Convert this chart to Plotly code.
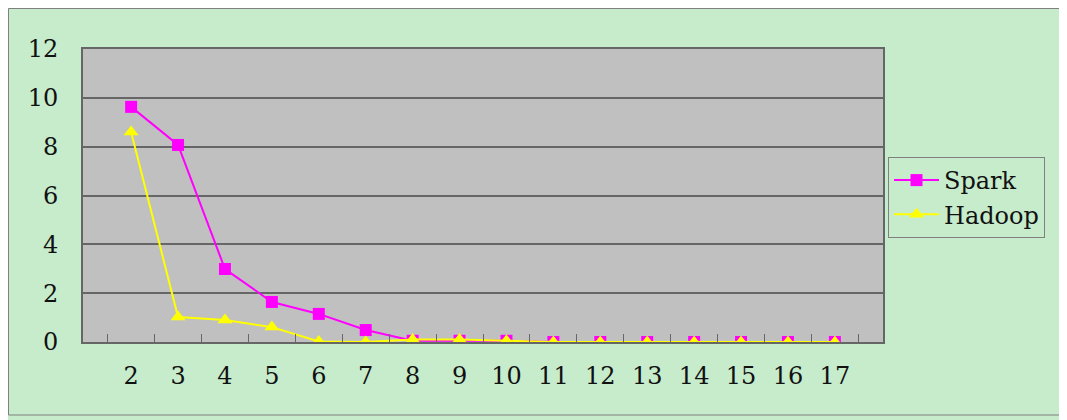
import plotly.graph_objects as go

categories = [str(i) for i in range(2, 18)]
spark = [9.63, 8.07, 2.99, 1.64, 1.15, 0.49, 0.05, 0.05, 0.05, 0, 0, 0, 0, 0, 0, 0]
hadoop = [8.6, 1.02, 0.9, 0.61, 0.02, 0.0, 0.1, 0.1, 0.05, 0, 0, 0, 0, 0, 0, 0]
y_ticks = [0, 2, 4, 6, 8, 10, 12]

FONT = "DejaVu Serif"
W, H = 1059, 412          # page body has an 8px margin
L, T, R, B = 75, 41, 184, 78
PW, PH = W - L - R, H - T - B

fig = go.Figure()
fig.add_trace(go.Scatter(x=categories, y=spark, name="Spark", mode="lines+markers",
                         line=dict(color="#FF00FF", width=2),
                         marker=dict(symbol="square", size=12, color="#FF00FF")))
fig.add_trace(go.Scatter(x=categories, y=hadoop, name="Hadoop", mode="lines+markers",
                         line=dict(color="#FFFF00", width=2),
                         marker=dict(symbol="triangle-up", size=13, color="#FFFF00")))

fig.update_layout(
    width=W, height=H,
    margin=dict(l=L, r=R, t=T, b=B),
    paper_bgcolor="#C6ECCC",
    plot_bgcolor="#C0C0C0",
    font=dict(family=FONT, size=24, color="#111111"),
    showlegend=True,
    legend=dict(x=(880 - L) / PW, y=(334 - 149) / PH, xanchor="left", yanchor="top",
                bgcolor="#C6ECCC", bordercolor="#808080", borderwidth=1,
                font=dict(family=FONT, size=24), itemwidth=45,
                tracegroupgap=0),
    xaxis=dict(type="category", tickson="boundaries", ticks="inside", ticklen=8,
               tickcolor="#666666", showgrid=False, showline=True, linecolor="#666666",
               linewidth=2, mirror=True, ticklabelstandoff=11, zeroline=False,
               tickfont=dict(family=FONT, size=24)),
    yaxis=dict(range=[0, 12], tickvals=y_ticks, showgrid=True, gridcolor="#666666",
               gridwidth=1.5, showline=True, linecolor="#666666", linewidth=2,
               mirror=True, ticks="", ticklabelstandoff=18, zeroline=False,
               tickfont=dict(family=FONT, size=24)),
    shapes=[dict(type="rect", xref="paper", yref="paper",
                 x0=(0.5 - L) / PW, x1=(1057 - L) / PW,
                 y0=(T + PH - 407) / PH, y1=(T + PH - 0.5) / PH,
                 line=dict(color="#808080", width=1), layer="below")],
)
fig.write_html("out.html")
